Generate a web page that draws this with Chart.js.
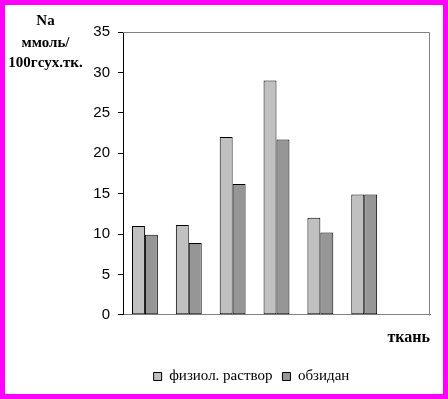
<!DOCTYPE html>
<html>
<head>
<meta charset="utf-8">
<script src="https://cdn.jsdelivr.net/npm/chart.js@4"></script>
<style>
  html, body { margin: 0; padding: 0; background: #fff; }
  #wrap { width: 448px; height: 399px; box-sizing: border-box; border: 5px solid #ff00ff; background: #fff; }
  canvas { display: block; }
</style>
</head>
<body>
<div id="wrap"><canvas id="c" width="438" height="389"></canvas></div>
<script>
const categories = ['1', '2', '3', '4', '5', '6', '7'];
const seriesNames = ['физиол. раствор', 'обзидан'];
const fiziolValues = [11, 11.1, 22, 29, 12, 14.9, null];
const obzidanValues = [9.9, 8.9, 16.2, 21.7, 10.2, 14.9, null];
const yTitleLines = ['Na', 'ммоль/', '100гсух.тк.'];
const xTitle = 'ткань';
const yMin = 0, yMax = 35, yStep = 5;

const plotFrame = {
  id: 'plotFrame',
  beforeDatasetsDraw(chart) {
    const {ctx, chartArea: a} = chart;
    ctx.save();
    ctx.strokeStyle = '#808080';
    ctx.lineWidth = 1;
    ctx.beginPath();
    const t = Math.round(a.top) + 0.5, r = Math.round(a.right) - 0.5, b = Math.round(a.bottom) + 0.5;
    ctx.moveTo(a.left, t);
    ctx.lineTo(r, t);
    ctx.lineTo(r, b);
    ctx.stroke();
    ctx.restore();
  },
  afterDraw(chart) {
    const ctx = chart.ctx;
    ctx.save();
    ctx.fillStyle = '#000';
    ctx.font = 'bold 15px "Liberation Serif", "Times New Roman", serif';
    ctx.textAlign = 'center';
    ctx.textBaseline = 'alphabetic';
    const ys = [20, 42, 62];
    yTitleLines.forEach((s, i) => ctx.fillText(s, 40.5, ys[i]));
    ctx.restore();
  }
};

Chart.defaults.color = '#000';
new Chart(document.getElementById('c'), {
  type: 'bar',
  data: {
    labels: categories,
    datasets: [
      { label: seriesNames[0], data: fiziolValues, backgroundColor: '#c0c0c0', borderColor: '#000', borderWidth: 1, borderSkipped: false },
      { label: seriesNames[1], data: obzidanValues, backgroundColor: '#969696', borderColor: '#000', borderWidth: 1, borderSkipped: false }
    ]
  },
  options: {
    responsive: false,
    devicePixelRatio: 1,
    animation: false,
    categoryPercentage: 0.59,
    barPercentage: 1.0,
    layout: { padding: { left: 68, right: 13, top: 27, bottom: 0 } },
    plugins: {
      tooltip: { enabled: false },
      legend: {
        position: 'bottom',
        labels: {
          boxWidth: 8, boxHeight: 8, padding: 10,
          color: '#000',
          font: { family: '"Liberation Serif", "Times New Roman", serif', size: 15 }
        }
      }
    },
    scales: {
      x: {
        grid: { display: false },
        ticks: { display: false },
        border: { color: '#808080', width: 1 },
        title: {
          display: true, text: xTitle, align: 'end', color: '#000',
          font: { family: '"Liberation Serif", "Times New Roman", serif', size: 16, weight: 'bold' },
          padding: { top: 5, bottom: 12 }
        }
      },
      y: {
        min: yMin, max: yMax,
        ticks: {
          stepSize: yStep, padding: 8, color: '#000',
          font: { family: '"Liberation Sans", Arial, sans-serif', size: 15 }
        },
        grid: { drawOnChartArea: false, drawTicks: true, tickLength: 5, color: '#000' },
        border: { color: '#000', width: 1 },
        afterFit(scale) { scale.width = 50; }
      }
    }
  },
  plugins: [plotFrame]
});
</script>
</body>
</html>
